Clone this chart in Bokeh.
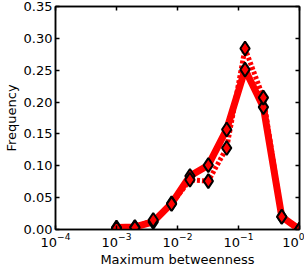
from bokeh.plotting import figure
from bokeh.models import LinearAxis, LogAxis, FixedTicker, Range1d, CustomJSTickFormatter
from bokeh.embed import file_html
from bokeh.resources import INLINE

bins = [0.001, 0.002, 0.004, 0.008, 0.016, 0.032, 0.064, 0.128, 0.256, 0.512, 1.0]
freq_solid = [0.003, 0.004, 0.012, 0.041, 0.084, 0.101, 0.157, 0.251, 0.192, 0.020, 0.0]
freq_dotted = [0.002, 0.003, 0.015, 0.040, 0.078, 0.076, 0.128, 0.284, 0.207, 0.020, 0.0]
x_ticks = [1e-4, 1e-3, 1e-2, 1e-1, 1e0]
y_ticks = [0.0, 0.05, 0.10, 0.15, 0.20, 0.25, 0.30, 0.35]

FONT = "DejaVu Sans"

p = figure(width=304, height=269, x_axis_type="log", output_backend="svg",
           toolbar_location=None, x_range=Range1d(1e-4, 1.0), y_range=Range1d(0, 0.35),
           min_border_left=9, min_border_right=5, min_border_top=6, min_border_bottom=1)
p.grid.visible = False
p.outline_line_color = "black"
p.outline_line_width = 1.5

p.line(bins, freq_solid, line_color="red", line_width=7)
p.line(bins, freq_dotted, line_color="red", line_width=5, line_dash="3 2")
p.scatter(bins, freq_solid, marker="diamond", size=14, fill_color="red",
          line_color="black", line_width=2)
p.scatter(bins, freq_dotted, marker="diamond", size=14, fill_color="red",
          line_color="black", line_width=2)

def style(ax, labels=True):
    ax.major_tick_in = 4
    ax.major_tick_out = 0
    ax.minor_tick_line_color = None
    ax.axis_line_width = 1.5
    ax.axis_line_color = "black"
    ax.major_tick_line_width = 1.5
    ax.major_label_text_font = FONT
    ax.major_label_text_color = "black"
    if labels:
        ax.major_label_text_font_size = "13px"
        ax.axis_label_text_font = FONT
        ax.axis_label_text_font_size = "13px"
        ax.axis_label_text_font_style = "normal"
        ax.axis_label_text_color = "black"
        ax.axis_label_standoff = 2
        ax.major_label_standoff = 3
    else:
        ax.major_label_text_font_size = "1px"
        ax.major_label_text_alpha = 0
        ax.major_label_standoff = 0

p.xaxis.ticker = FixedTicker(ticks=x_ticks)
p.yaxis.ticker = FixedTicker(ticks=y_ticks)
p.xaxis.axis_label = "Maximum betweenness"
p.yaxis.axis_label = "Frequency"
p.yaxis.formatter = CustomJSTickFormatter(code="return tick.toFixed(2);")
style(p.xaxis[0])
style(p.yaxis[0])

ra = LinearAxis(ticker=FixedTicker(ticks=y_ticks))
ta = LogAxis(ticker=FixedTicker(ticks=x_ticks))
style(ra, False)
style(ta, False)
p.add_layout(ra, "right")
p.add_layout(ta, "above")

open("out.html", "w").write(file_html(p, INLINE))
